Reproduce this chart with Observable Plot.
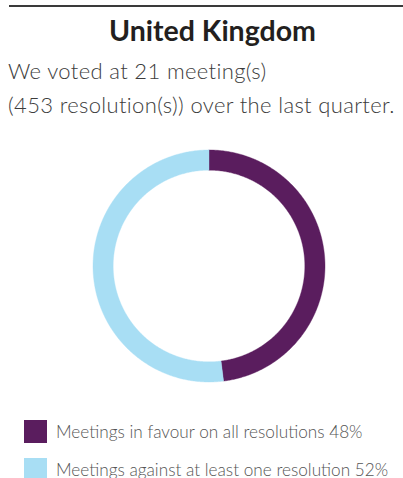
<!DOCTYPE html>
<html>
<head>
<meta charset="utf-8">
<script src="https://cdn.jsdelivr.net/npm/d3@7"></script>
<script src="https://cdn.jsdelivr.net/npm/@observablehq/plot@0.6"></script>
<style>
  html, body { margin: 0; padding: 0; background: #fff; }
  body { width: 403px; height: 478px; position: relative; overflow: hidden; font-family: Lato, "Open Sans", sans-serif; }
  .rule { position: absolute; left: 9px; top: 4.5px; width: 394px; height: 2px; background: #3a3a3a; }
  .title { position: absolute; left: 0; width: 425px; top: 14px; text-align: center; font-weight: 700; font-size: 28.5px; line-height: 32px; color: #231f20; white-space: nowrap; }
  .sub { position: absolute; left: 8px; font-weight: 300; font-size: 22px; letter-spacing: 0.35px; line-height: 26px; color: #3c3c3c; white-space: nowrap; }
  #chart { position: absolute; left: 0; top: 140px; }
  .leg { position: absolute; left: 24px; display: flex; align-items: center; white-space: nowrap; }
  .leg .sw { width: 22.5px; height: 22.5px; margin-right: 9.5px; flex: none; }
  .leg .lb { font-weight: 300; font-size: 17.2px; color: #555; }
</style>
</head>
<body>
<div class="rule"></div>
<div class="title" id="title"></div>
<div class="sub" id="sub1" style="top:58px"></div>
<div class="sub" id="sub2" style="top:92px"></div>
<div id="chart"></div>
<div id="legend"></div>
<script>
const titleText = "United Kingdom";
const subtitleLines = ["We voted at 21 meeting(s)", "(453 resolution(s)) over the last quarter."];
const categories = ["Meetings in favour on all resolutions", "Meetings against at least one resolution"];
const shares = [48, 52];
const colors = ["#5a1d5e", "#a8def4"];

document.getElementById("title").textContent = titleText;
document.getElementById("sub1").textContent = subtitleLines[0];
document.getElementById("sub2").textContent = subtitleLines[1];

// Donut slices as spherical polygons around the north pole (azimuthal projection → ring)
const outerColat = 60;
const innerColat = 60 * 95.5 / 115.6;
const total = d3.sum(shares);
let acc = 0;
const slices = categories.map((c, i) => {
  const a0 = acc / total * 360;
  acc += shares[i];
  const a1 = acc / total * 360;
  const n = Math.max(2, Math.ceil((a1 - a0) / 0.5));
  const pts = [];
  for (let k = 0; k <= n; k++) { const t = a0 + (a1 - a0) * k / n; pts.push([180 - t, 90 - outerColat]); }
  for (let k = n; k >= 0; k--) { const t = a0 + (a1 - a0) * k / n; pts.push([180 - t, 90 - innerColat]); }
  pts.push(pts[0]);
  const f = {type: "Feature", properties: {category: c, share: shares[i]}, geometry: {type: "Polygon", coordinates: [pts]}};
  if (d3.geoArea(f) > 2 * Math.PI) pts.reverse();
  return f;
});

const chart = Plot.plot({
  width: 403,
  height: 250,
  marginTop: 9.5,
  marginBottom: 8.5,
  marginLeft: 30,
  marginRight: 16,
  projection: {
    type: "azimuthal-equidistant",
    rotate: [0, -90],
    domain: d3.geoCircle().center([0, 90]).radius(outerColat)()
  },
  color: {domain: categories, range: colors},
  marks: [
    Plot.geo(slices, {fill: d => d.properties.category, stroke: d => d.properties.category, strokeWidth: 0.4})
  ]
});
document.getElementById("chart").appendChild(chart);

const color = chart.scale("color");
const legend = document.getElementById("legend");
const tops = [420, 458];
categories.forEach((c, i) => {
  const row = document.createElement("div");
  row.className = "leg";
  row.style.top = tops[i] + "px";
  const sw = document.createElement("div");
  sw.className = "sw";
  sw.style.background = color.apply(c);
  const lb = document.createElement("span");
  lb.className = "lb";
  lb.textContent = `${c} ${shares[i]}%`;
  row.appendChild(sw);
  row.appendChild(lb);
  legend.appendChild(row);
});
</script>
</body>
</html>
